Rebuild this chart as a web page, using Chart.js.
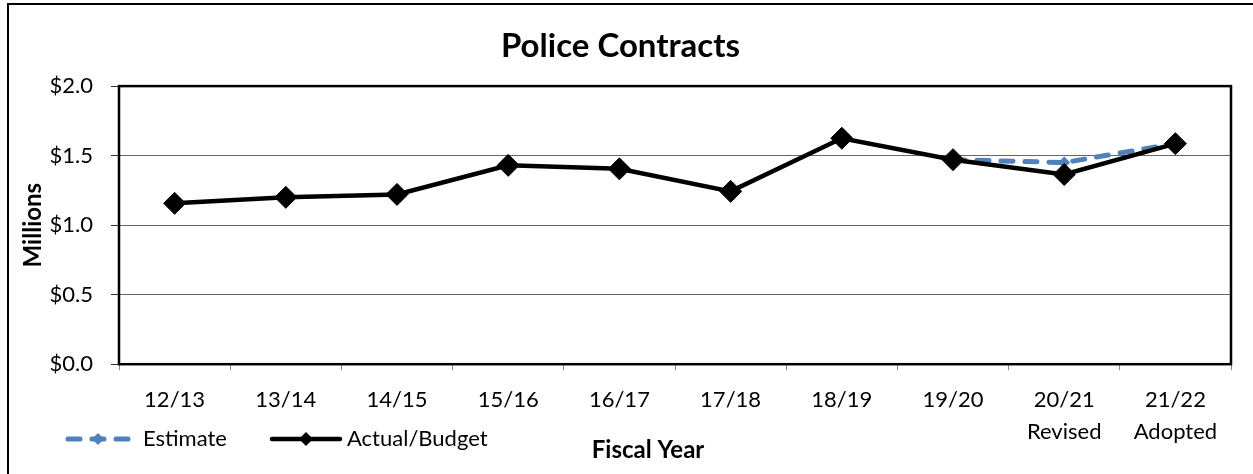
<!DOCTYPE html>
<html>
<head>
<meta charset="utf-8">
<script src="https://cdn.jsdelivr.net/npm/chart.js@4/dist/chart.umd.min.js"></script>
<style>
  html, body { margin: 0; padding: 0; background: #fff; }
  #wrap { position: relative; width: 1253px; height: 474px; }
</style>
</head>
<body>
<div id="wrap"><canvas id="c" width="1253" height="474"></canvas></div>
<script>
// Fiscal years (second line marks the revised / adopted budgets)
const categories = [
  ['12/13'], ['13/14'], ['14/15'], ['15/16'], ['16/17'],
  ['17/18'], ['18/19'], ['19/20'], ['20/21', 'Revised'], ['21/22', 'Adopted']
];
// Police contract costs, $ millions
const actualBudget = [1.157, 1.20, 1.221, 1.43, 1.405, 1.243, 1.625, 1.471, 1.364, 1.586];
const estimate     = [null, null, null, null, null, null, null, 1.471, 1.45, 1.586];
const yTicks = [0, 0.5, 1.0, 1.5, 2.0];

const FONT = 'Lato, "Open Sans", sans-serif';
const BLUE = '#4F81BD';

// Frame, plot box, legend and axis title drawn on the canvas
const decorations = {
  id: 'decorations',
  beforeDraw(chart) {
    const ctx = chart.ctx;
    ctx.save();
    ctx.fillStyle = '#fff';
    ctx.fillRect(0, 0, chart.width, chart.height);
    ctx.strokeStyle = '#000';
    ctx.lineWidth = 2;
    ctx.beginPath();
    ctx.moveTo(8, chart.height + 5);
    ctx.lineTo(8, 4);
    ctx.lineTo(chart.width + 5, 4);
    ctx.stroke();
    ctx.restore();
  },
  beforeDatasetsDraw(chart) {
    const a = chart.chartArea, ctx = chart.ctx;
    ctx.save();
    ctx.strokeStyle = '#000';
    ctx.lineWidth = 2.5;
    ctx.strokeRect(a.left, a.top, a.right - a.left, a.bottom - a.top);
    ctx.restore();
  },
  afterDraw(chart) {
    const ctx = chart.ctx;
    ctx.save();
    const ly = 439;
    // Estimate sample
    ctx.strokeStyle = BLUE;
    ctx.lineWidth = 5;
    ctx.lineCap = 'round';
    ctx.setLineDash([12, 12]);
    ctx.beginPath();
    ctx.moveTo(68, ly); ctx.lineTo(128, ly);
    ctx.stroke();
    ctx.setLineDash([]);
    diamond(ctx, 98, ly, 6, BLUE);
    // Actual/Budget sample
    ctx.strokeStyle = '#000';
    ctx.lineWidth = 4.5;
    ctx.lineCap = 'round';
    ctx.beginPath();
    ctx.moveTo(272, ly); ctx.lineTo(340, ly);
    ctx.stroke();
    diamond(ctx, 306, ly, 7, '#000');

    ctx.fillStyle = '#000';
    ctx.textBaseline = 'middle';
    ctx.textAlign = 'left';
    ctx.font = '22px ' + FONT;
    ctx.fillText('Estimate', 143, ly);
    ctx.fillText('Actual/Budget', 347, ly);

    ctx.font = 'bold 24px ' + FONT;
    ctx.textAlign = 'center';
    ctx.fillText('Fiscal Year', 648, 450);
    ctx.restore();
  }
};

function diamond(ctx, x, y, r, color) {
  ctx.save();
  ctx.fillStyle = color;
  ctx.beginPath();
  ctx.moveTo(x, y - r); ctx.lineTo(x + r, y);
  ctx.lineTo(x, y + r); ctx.lineTo(x - r, y);
  ctx.closePath();
  ctx.fill();
  ctx.restore();
}

new Chart(document.getElementById('c'), {
  type: 'line',
  data: {
    labels: categories,
    datasets: [
      {
        label: 'Actual/Budget',
        data: actualBudget,
        order: 0,
        borderColor: '#000',
        backgroundColor: '#000',
        borderWidth: 4.5,
        pointStyle: 'rectRot',
        pointRadius: 11,
        pointBorderWidth: 1,
        pointBackgroundColor: '#000',
        pointBorderColor: '#000',
        tension: 0
      },
      {
        label: 'Estimate',
        data: estimate,
        order: 1,
        borderColor: BLUE,
        backgroundColor: BLUE,
        borderWidth: 5,
        borderDash: [12, 12],
        borderCapStyle: 'round',
        pointStyle: 'rectRot',
        pointRadius: 6,
        pointBorderWidth: 0,
        pointBackgroundColor: BLUE,
        spanGaps: false,
        tension: 0
      }
    ]
  },
  options: {
    responsive: false,
    animation: false,
    events: [],
    layout: { padding: { left: 10, right: 22, top: 0, bottom: 12 } },
    plugins: {
      legend: { display: false },
      tooltip: { enabled: false },
      title: {
        display: true,
        text: 'Police Contracts',
        color: '#000',
        font: { family: FONT, size: 33, weight: 'bold' },
        padding: { top: 27, bottom: 19.5 }
      }
    },
    scales: {
      x: {
        offset: true,
        grid: {
          display: true,
          drawOnChartArea: false,
          drawTicks: true,
          tickLength: 6,
          tickColor: '#888',
          offset: true
        },
        border: { display: false },
        ticks: {
          color: '#000',
          font: { family: FONT, size: 22, lineHeight: 1.45 },
          padding: 14,
          maxRotation: 0,
          autoSkip: false
        }
      },
      y: {
        min: 0,
        max: 2,
        afterBuildTicks(scale) { scale.ticks = yTicks.map(v => ({ value: v })); },
        afterFit(scale) { scale.width = 109; },
        grid: {
          color: '#666',
          lineWidth: 1,
          tickLength: 8,
          tickColor: '#333'
        },
        border: { display: false },
        title: {
          display: true,
          text: 'Millions',
          color: '#000',
          font: { family: FONT, size: 24, weight: 'bold' },
          padding: { top: 9, bottom: 0 }
        },
        ticks: {
          color: '#000',
          font: { family: FONT, size: 22 },
          padding: 18,
          callback: v => '$' + Number(v).toFixed(1)
        }
      }
    }
  },
  plugins: [decorations]
});
</script>
</body>
</html>
